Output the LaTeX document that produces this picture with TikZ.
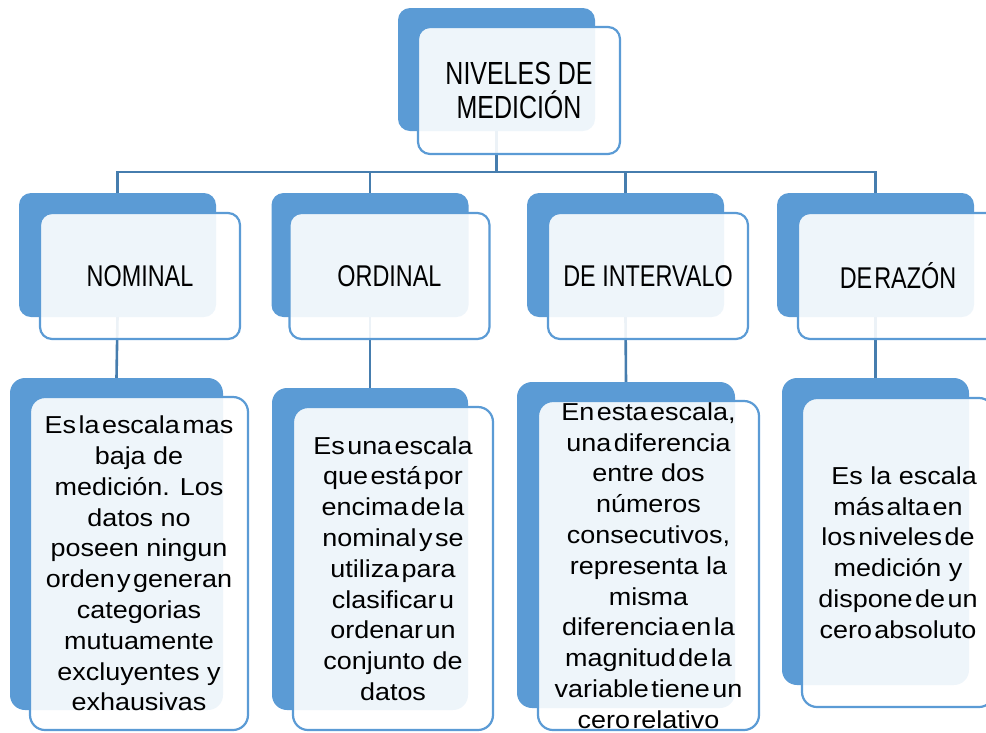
\documentclass[tikz,border=0pt]{standalone}
\usepackage{fontspec}
\setmainfont{Liberation Sans}
\newfontfamily\headfont[FakeStretch=0.78]{Liberation Sans}
\newfontfamily\bodyfont[FakeStretch=1.1]{Liberation Sans}
\newcommand\tl[1]{{\spaceskip=2.5pt\relax #1}}
\definecolor{boxblue}{HTML}{5B9BD5}
\definecolor{linkblue}{HTML}{467DAE}
\tikzset{
  darkbox/.style={fill=boxblue, draw=none, rounded corners=12pt, inner sep=0pt},
  lightbox/.style={draw=boxblue, line width=2.2pt, fill=white, fill opacity=0.9, text opacity=1,
    rounded corners=12pt, inner sep=0pt, align=center, text=black},
  headtext/.style={font=\headfont\fontsize{30}{34}\selectfont},
  titletext/.style={font=\headfont\fontsize{32}{34}\selectfont},
  bodytext/.style={font=\bodyfont\fontsize{24.5}{30.8}\selectfont},
  link/.style={draw=linkblue, line width=2.6pt}
}
\begin{document}
\begin{tikzpicture}[x=1pt,y=-1pt]
\useasboundingbox (0,0) rectangle (986,732);
\clip (0,0) rectangle (986,732);
% dark back boxes
\node[darkbox, minimum width=197pt, minimum height=123pt] (topd) at (496.5,69.5) {};
\node[darkbox, minimum width=197pt, minimum height=124pt] (nd) at (117.5,255) {};
\node[darkbox, minimum width=197pt, minimum height=124pt] (od) at (370,255) {};
\node[darkbox, minimum width=197pt, minimum height=124pt] (id) at (625.5,255) {};
\node[darkbox, minimum width=197pt, minimum height=124pt] (rd) at (875.5,255) {};
\node[darkbox, minimum width=213pt, minimum height=332pt, rounded corners=15pt] (nbd) at (116.5,544) {};
\node[darkbox, minimum width=196pt, minimum height=322pt, rounded corners=15pt] (obd) at (370,549) {};
\node[darkbox, minimum width=218pt, minimum height=326pt, rounded corners=15pt] (ibd) at (626,545) {};
\node[darkbox, minimum width=187pt, minimum height=307pt, rounded corners=15pt] (rbd) at (875.5,531.5) {};
% connectors
\coordinate (bus) at (496.5,172);
\draw[link] (topd.south) -- (bus);
\draw[link] (bus) -| (nd.north);
\draw[link] (bus) -| (od.north);
\draw[link] (bus) -| (id.north);
\draw[link] (bus) -| (rd.north);
\draw[link] (nd.south) -- (nbd.north);
\draw[link] (od.south) -- (obd.north);
\draw[link] (id.south) -- (ibd.north);
\draw[link] (rd.south) -- (rbd.north);
% front boxes
\node[lightbox, titletext, minimum width=202pt, minimum height=127pt] (top) at (519,90.5)
  {NIVELES DE\\MEDICIÓN};
\node[lightbox, headtext, minimum width=200pt, minimum height=126pt] (nom) at (140,276) {NOMINAL};
\node[lightbox, headtext, minimum width=200pt, minimum height=126pt] (ord) at (389.5,276) {ORDINAL};
\node[lightbox, headtext, minimum width=200pt, minimum height=126pt] (int) at (648,276) {DE INTERVALO};
\node[lightbox, headtext, minimum width=200pt, minimum height=126pt] (raz) at (898,276) {DE\hspace{2pt}RAZÓN};
\node[lightbox, bodytext, minimum width=218pt, minimum height=333pt, rounded corners=15pt] (nomb) at (139,563.5)
  {\tl{Es la escala mas}\\baja de\\medición. Los\\datos no\\poseen ningun\\\tl{orden y generan}\\categorias\\mutuamente\\excluyentes y\\exhausivas};
\node[lightbox, bodytext, minimum width=200pt, minimum height=323pt, rounded corners=15pt] (ordb) at (393,568.5)
  {\tl{Es una escala}\\\tl{que está por}\\\tl{encima de la}\\\tl{nominal y se}\\\tl{utiliza para}\\\tl{clasificar u}\\\tl{ordenar un}\\conjunto de\\datos};
\node[lightbox, bodytext, minimum width=221pt, minimum height=329pt, rounded corners=15pt] (intb) at (648.5,565.5)
  {\tl{En esta escala,}\\\tl{una diferencia}\\entre dos\\números\\consecutivos,\\representa la\\misma\\\tl{diferencia en la}\\\tl{magnitud de la}\\\tl{variable tiene un}\\\tl{cero relativo}};
\node[lightbox, bodytext, minimum width=192pt, minimum height=309pt, rounded corners=15pt] (razb) at (898,552.5)
  {\hspace*{0.5em}Es la escala\\\tl{más alta en}\\\tl{los niveles de}\\medición y\\\tl{dispone de un}\\\tl{cero absoluto}};
\end{tikzpicture}
\end{document}
